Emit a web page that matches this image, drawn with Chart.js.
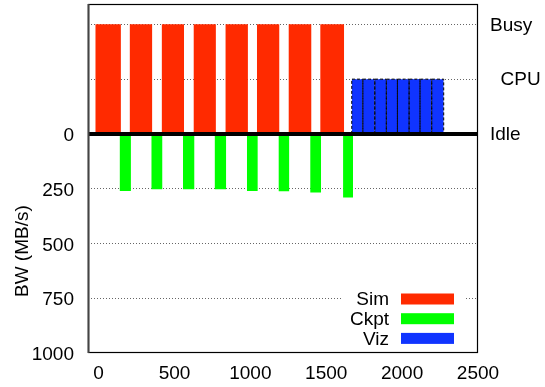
<!DOCTYPE html>
<html><head><meta charset="utf-8">
<script src="https://cdn.jsdelivr.net/npm/chart.js@4/dist/chart.umd.min.js"></script>
<style>html,body{margin:0;padding:0;background:#fff;} #wrap{width:545px;height:387px;}</style>
</head><body><div id="wrap"><canvas id="c" width="545" height="387"></canvas></div>
<script>
// CPU state levels (drawn on the reversed shared axis, above zero)
const BUSY = -500, CPU = -250, IDLE = 0;
// Sim phases: CPU busy intervals (time)
const simStart = [-22, 204, 415, 625, 835, 1043, 1251, 1460];
const simEnd   = [147, 354, 563, 773, 984, 1192, 1403, 1618];
// Checkpoint phases: intervals and bandwidth (MB/s)
const ckptStart = [138, 347, 556, 764, 977, 1185, 1394, 1611];
const ckptEnd   = [213, 421, 632, 841, 1049, 1257, 1466, 1677];
const ckptBW    = [260, 253, 253, 253, 260, 262, 267, 290];
// Viz phases: consecutive interval edges, CPU level
const vizEdges = [1668, 1741, 1820, 1896, 1969, 2046, 2118, 2195, 2274];
// Axis ticks / labels
const xTicks = [0, 500, 1000, 1500, 2000, 2500];
const bwTicks = [0, 250, 500, 750, 1000];
const cpuTicks = [BUSY, CPU, IDLE];
const cpuLabels = ['Busy', '  CPU', 'Idle'];
const seriesNames = ['Sim', 'Ckpt', 'Viz'];
const seriesColors = ['#ff2a00', '#00ff00', '#1034ff'];

function rects(starts, ends, levels) {
  const pts = [];
  starts.forEach((s, i) => {
    const e = ends[i], lv = levels[i];
    pts.push({x: s, y: 0}, {x: s, y: lv}, {x: e, y: lv}, {x: e, y: 0});
    if (i < starts.length - 1) pts.push({x: (e + starts[i + 1]) / 2, y: null});
  });
  return pts;
}
const simData = rects(simStart, simEnd, simStart.map(() => BUSY));
const ckptData = rects(ckptStart, ckptEnd, ckptBW);
const vizData = rects(vizEdges.slice(0, -1), vizEdges.slice(1), vizEdges.slice(1).map(() => CPU));

const FONT = {family: "'Liberation Sans', Arial, Helvetica, sans-serif", size: 19};
const noPad = s => { s.paddingTop = 0; s.paddingBottom = 0; s.paddingLeft = 0; s.paddingRight = 0; };

const decor = {
  id: 'decor',
  beforeDraw(chart) {
    const c = chart.ctx; c.save(); c.fillStyle = '#fff'; c.fillRect(0, 0, chart.width, chart.height); c.restore();
  },
  afterDatasetsDraw(chart) {
    const c = chart.ctx, a = chart.chartArea, y = chart.scales.y;
    c.save();
    const y0 = y.getPixelForValue(0);
    c.strokeStyle = '#000'; c.lineWidth = 4;
    c.beginPath(); c.moveTo(a.left, y0); c.lineTo(a.right, y0); c.stroke();
    c.lineWidth = 1.2; c.strokeStyle = '#000';
    c.strokeRect(a.left + 0.5, a.top + 0.5, a.right - a.left - 1, a.bottom - a.top - 1);
    c.lineWidth = 2; c.strokeStyle = '#444';
    c.beginPath(); c.moveTo(a.left + 0.5, a.top); c.lineTo(a.left + 0.5, a.bottom); c.stroke();
    c.restore();
  },
  afterDraw(chart) {
    const c = chart.ctx, a = chart.chartArea, y = chart.scales.y;
    c.save();
    c.fillStyle = '#fff';
    c.fillRect(a.right - 135, a.bottom - 64, 121, 62);
    c.font = FONT.size + 'px ' + FONT.family;
    c.textAlign = 'right'; c.textBaseline = 'middle';
    const rows = [a.bottom - 54, a.bottom - 34.3, a.bottom - 14.6];
    seriesNames.forEach((n, i) => {
      c.fillStyle = '#000';
      c.fillText(n, a.right - 89, rows[i] + 1);
      c.fillStyle = seriesColors[i];
      c.fillRect(a.right - 77, rows[i] - 5.5, 53, 11);
    });
    c.translate(23, y.getPixelForValue(535));
    c.rotate(-Math.PI / 2);
    c.textAlign = 'center'; c.textBaseline = 'middle'; c.fillStyle = '#000';
    c.fillText('BW (MB/s)', 0, 0);
    c.restore();
  }
};

new Chart(document.getElementById('c'), {
  type: 'line',
  data: {
    datasets: [
      {label: seriesNames[0], data: simData, backgroundColor: seriesColors[0], borderColor: seriesColors[0], borderWidth: 0, fill: 'origin'},
      {label: seriesNames[1], data: ckptData, backgroundColor: seriesColors[1], borderColor: seriesColors[1], borderWidth: 0, fill: 'origin'},
      {label: seriesNames[2], data: vizData, backgroundColor: seriesColors[2], borderColor: '#000', borderWidth: 1, borderDash: [3, 2], fill: 'origin'}
    ]
  },
  options: {
    responsive: false, animation: false, devicePixelRatio: 1,
    spanGaps: false,
    elements: {point: {radius: 0, hoverRadius: 0}, line: {tension: 0}},
    layout: {padding: {top: 4, left: 0, right: 0, bottom: 0}},
    plugins: {legend: {display: false}, tooltip: {enabled: false}},
    scales: {
      x: {
        type: 'linear', min: -70, max: 2500,
        afterBuildTicks: s => { s.ticks = xTicks.map(v => ({value: v})); },
        afterFit: s => { s.height = 34; noPad(s); },
        grid: {display: false, drawTicks: false},
        border: {display: false},
        ticks: {font: FONT, color: '#000', padding: 9, maxRotation: 0, autoSkip: false,
          callback: v => String(v)}
      },
      y: {
        type: 'linear', reverse: true, min: -593, max: 1000,
        afterBuildTicks: s => { s.ticks = [BUSY, CPU].concat(bwTicks).map(v => ({value: v})); },
        afterFit: s => { s.width = 88; noPad(s); },
        grid: {drawTicks: false, lineWidth: 1,
          color: ctx => (ctx.tick && (ctx.tick.value === 0 || ctx.tick.value === 1000)) ? 'rgba(0,0,0,0)' : '#666'},
        border: {display: false, dash: [1, 2]},
        ticks: {font: FONT, color: '#000', padding: 14, autoSkip: false, labelOffset: 2,
          callback: v => v < 0 ? '' : String(v)}
      },
      y2: {
        type: 'linear', position: 'right', reverse: true, min: -593, max: 1000,
        afterBuildTicks: s => { s.ticks = cpuTicks.map(v => ({value: v})); },
        afterFit: s => { s.width = 67; noPad(s); },
        grid: {display: false, drawTicks: false},
        border: {display: false},
        ticks: {font: FONT, color: '#000', padding: 12, autoSkip: false, labelOffset: 1,
          callback: v => cpuLabels[cpuTicks.indexOf(v)]}
      }
    }
  },
  plugins: [decor]
});
</script>
</body></html>
